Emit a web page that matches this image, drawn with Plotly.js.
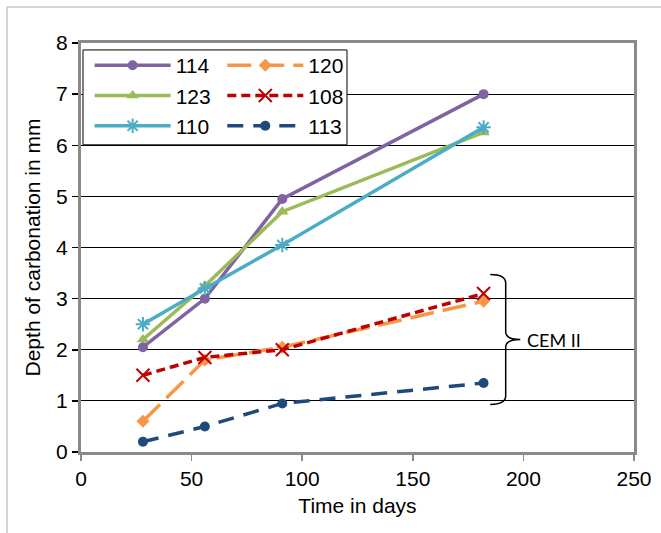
<!DOCTYPE html>
<html>
<head>
<meta charset="utf-8">
<script src="https://cdn.plot.ly/plotly-3.0.1.min.js"></script>
<style>
html,body{margin:0;padding:0;background:#fff;}
#chart{width:661px;height:533px;}
</style>
</head>
<body>
<div id="chart"></div>
<script>
// Data
var days = [28, 56, 91, 182];
var s114 = [2.05, 3.0, 4.95, 7.0];
var s123 = [2.2, 3.25, 4.7, 6.25];
var s110 = [2.5, 3.2, 4.05, 6.35];
var s120 = [0.6, 1.8, 2.05, 2.95];
var s108 = [1.5, 1.85, 2.0, 3.1];
var s113 = [0.2, 0.5, 0.95, 1.35];
var xTicks = [0, 50, 100, 150, 200, 250];
var yTicks = [0, 1, 2, 3, 4, 5, 6, 7, 8];
var bracketLabel = 'CEM II';

var FONT = 'Arial, "Liberation Sans", sans-serif';

function tr(name, y, color, dash, symbol, msize, legend, mline) {
  return {
    x: days, y: y, name: name, type: 'scatter', mode: 'lines+markers',
    legend: legend,
    line: {color: color, width: 3.5, dash: dash},
    marker: {symbol: symbol, size: msize, color: color,
             line: {color: color, width: mline || 0}}
  };
}

var data = [
  tr('114', s114, '#8064A2', 'solid', 'circle', 10, 'legend'),
  tr('123', s123, '#9BBB59', 'solid', 'triangle-up', 11, 'legend'),
  tr('110', s110, '#4BACC6', 'solid', 'asterisk-open', 12, 'legend', 2),
  tr('120', s120, '#F79646', '24px,9px', 'diamond', 10, 'legend2'),
  tr('108', s108, '#C00000', '9px,5px', 'x-thin-open', 13, 'legend2', 2),
  tr('113', s113, '#1F497D', '16px,10px', 'circle', 10, 'legend2')
];

var layout = {
  width: 661, height: 533,
  margin: {l: 81, r: 27, t: 43, b: 80.5},
  paper_bgcolor: '#fff', plot_bgcolor: '#fff',
  font: {family: FONT, size: 21, color: '#000'},
  showlegend: true,
  xaxis: {
    range: [0, 250], tickvals: xTicks, ticktext: xTicks.map(String),
    showgrid: false, zeroline: false,
    showline: true, linecolor: '#8a8a8a', linewidth: 3, mirror: true,
    ticks: 'outside', ticklen: 6, tickcolor: '#8a8a8a', tickwidth: 1.5,
    tickfont: {family: FONT, size: 21, color: '#000'},
    title: {text: 'Time in days', font: {family: FONT, size: 21, color: '#000'}, standoff: 10}
  },
  yaxis: {
    range: [0, 8], tickvals: yTicks, ticktext: yTicks.map(String),
    showgrid: true, gridcolor: '#000', gridwidth: 1, zeroline: false,
    showline: true, linecolor: '#8a8a8a', linewidth: 3, mirror: true,
    ticks: 'outside', ticklen: 6, tickcolor: '#000', tickwidth: 1.5,
    tickfont: {family: FONT, size: 21, color: '#000'},
    title: {text: 'Depth of carbonation in mm', font: {family: FONT, size: 21, color: '#000'}, standoff: 10}
  },
  legend: {
    x: 0.0156, y: 0.995, xanchor: 'left', yanchor: 'top',
    bgcolor: 'rgba(0,0,0,0)', borderwidth: 0,
    itemwidth: 76, tracegroupgap: 0,
    font: {family: FONT, size: 21, color: '#000'}
  },
  legend2: {
    x: 0.2555, y: 0.995, xanchor: 'left', yanchor: 'top',
    bgcolor: 'rgba(0,0,0,0)', borderwidth: 0,
    itemwidth: 76, tracegroupgap: 0,
    font: {family: FONT, size: 21, color: '#000'}
  },
  shapes: [
    // legend box
    {type: 'rect', xref: 'paper', yref: 'paper', x0: 0.0036, x1: 0.481, y0: 0.751, y1: 0.983,
     fillcolor: '#fff', line: {color: '#000', width: 1}, layer: 'above'},
    // bracket
    {type: 'path', xref: 'x', yref: 'y', layer: 'above',
     path: 'M185,3.47 Q192,3.47 192,3.3 L192,2.35 Q192,2.2 198.6,2.2 Q192,2.2 192,2.05 L192,1.1 Q192,0.93 185,0.93',
     line: {color: '#000', width: 1.5}},
    // outer light border (top and left)
    {type: 'line', xref: 'paper', yref: 'paper', x0: -0.1338, x1: 1.06, y0: 1.0879, y1: 1.0879,
     line: {color: '#c8c8c8', width: 1.5}},
    {type: 'line', xref: 'paper', yref: 'paper', x0: -0.1338, x1: -0.1338, y0: 1.0879, y1: -0.21,
     line: {color: '#c8c8c8', width: 1.5}}
  ],
  annotations: [
    {x: 200.5, y: 2.2, xref: 'x', yref: 'y', xanchor: 'left', yanchor: 'middle',
     text: bracketLabel, showarrow: false,
     font: {family: 'Lato, "Open Sans", sans-serif', size: 18, color: '#000'}}
  ]
};

Plotly.newPlot('chart', data, layout, {displayModeBar: false, staticPlot: true});
</script>
</body>
</html>
